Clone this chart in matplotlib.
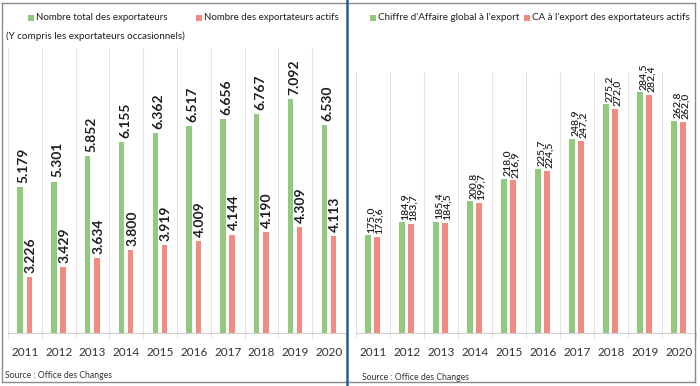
import matplotlib.pyplot as plt
from matplotlib.lines import Line2D
from matplotlib.patches import Rectangle
import numpy as np

years = ['2011', '2012', '2013', '2014', '2015', '2016', '2017', '2018', '2019', '2020']
nbTotal = [5179, 5301, 5852, 6155, 6362, 6517, 6656, 6767, 7092, 6530]
nbActifs = [3226, 3429, 3634, 3800, 3919, 4009, 4144, 4190, 4309, 4113]
caGlobal = [175.0, 184.9, 185.4, 200.8, 218.0, 225.7, 248.9, 275.2, 284.5, 262.8]
caActifs = [173.6, 183.7, 184.5, 199.7, 216.9, 224.5, 247.2, 272.0, 282.4, 262.0]

GREEN = '#92c97e'
RED = '#f28b82'
TXT = '#1e1e1e'

plt.rcParams['font.family'] = ['Lato', 'DejaVu Sans']

W, H = 700, 386


def box(x0, y0, x1, y1):
    # pixel coords (top-left origin) -> figure fraction
    return [x0 / W, 1 - y1 / H, (x1 - x0) / W, (y1 - y0) / H]


def style_axes(ax):
    for s in ['top', 'left', 'right']:
        ax.spines[s].set_visible(False)
    ax.spines['bottom'].set_color('#d0d0d0')
    ax.set_yticks([])
    ax.set_xticks(np.arange(len(years)))
    ax.set_xticklabels(years, fontsize=8.5, color='#333333')
    ax.tick_params(axis='x', length=0, pad=10)
    ax.set_xticks(np.arange(len(years) + 1) - 0.5, minor=True)
    ax.tick_params(axis='x', which='minor', length=4, color='#e2e2e2')
    ax.grid(which='minor', axis='x', color='#e2e2e2', lw=0.8)
    ax.set_xlim(-0.5, len(years) - 0.5)


fig = plt.figure(figsize=(7, 3.86), dpi=100)

x = np.arange(len(years))
bw = 0.16

# left panel: number of exporters
ax1 = fig.add_axes(box(8, 48, 346, 333))
ax1.bar(x - 0.14, nbTotal, bw, color=GREEN)
ax1.bar(x + 0.13, nbActifs, bw, color=RED)
ax1.set_ylim(2000, 8210)
style_axes(ax1)
for i in range(len(years)):
    ax1.text(x[i] - 0.04, nbTotal[i] + 90, f"{nbTotal[i]:,}".replace(',', '.'),
             rotation=90, ha='center', va='bottom', fontsize=10, fontweight='bold', color=TXT)
    ax1.text(x[i] + 0.17, nbActifs[i] + 90, f"{nbActifs[i]:,}".replace(',', '.'),
             rotation=90, ha='center', va='bottom', fontsize=10, fontweight='bold', color=TXT)

# right panel: export turnover
ax2 = fig.add_axes(box(356, 72, 696, 333))
ax2.bar(x - 0.15, caGlobal, bw, color=GREEN)
ax2.bar(x + 0.12, caActifs, bw, color=RED)
ax2.set_ylim(100, 300)
style_axes(ax2)
for i in range(len(years)):
    ax2.text(x[i] - 0.05, caGlobal[i] + 2, f"{caGlobal[i]:.1f}".replace('.', ','),
             rotation=90, ha='center', va='bottom', fontsize=7.5, fontweight='semibold', color=TXT)
    ax2.text(x[i] + 0.2, caActifs[i] + 2, f"{caActifs[i]:.1f}".replace('.', ','),
             rotation=90, ha='center', va='bottom', fontsize=7.5, fontweight='semibold', color=TXT)

# legends
def legend_item(px, py, color, label, size=7.0):
    fig.add_artist(Rectangle(((px) / W, 1 - (py + 3) / H), 6 / W, 6 / H,
                             transform=fig.transFigure, color=color, lw=0))
    fig.text((px + 8) / W, 1 - py / H, label, fontsize=size,
             color=TXT, va='center', ha='left')

legend_item(28, 18, GREEN, 'Nombre total des exportateurs')
legend_item(196, 18, RED, 'Nombre des exportateurs actifs')
fig.text(6 / W, 1 - 36 / H, '(Y compris les exportateurs occasionnels)', fontsize=7.1,
         color=TXT, va='center', ha='left')
legend_item(370, 18, GREEN, "Chiffre d'Affaire global à l'export", 7.1)
legend_item(524, 18, RED, "CA à l'export des exportateurs actifs", 7.1)

fig.text(5 / W, 1 - 375 / H, 'Source : Office des Changes', fontsize=6.2, color='#333333', va='center')
fig.text(362 / W, 1 - 378 / H, 'Source : Office des Changes', fontsize=6.2, color='#333333', va='center')

# panel frames
gray = '#8a8a8a'
def fline(x0, y0, x1, y1, **kw):
    fig.add_artist(Line2D([x0 / W, x1 / W], [1 - y0 / H, 1 - y1 / H], transform=fig.transFigure, **kw))

fline(2, 3, 695, 3, color=gray, lw=1)
fline(2, 382, 695, 382, color=gray, lw=1)
fline(2, 3, 2, 382, color=gray, lw=1)
fline(695, 3, 695, 382, color=gray, lw=1)
fline(347, 0, 347, 386, color='#1f5d9c', lw=1.8)

fig.savefig('out.png', dpi=100)
